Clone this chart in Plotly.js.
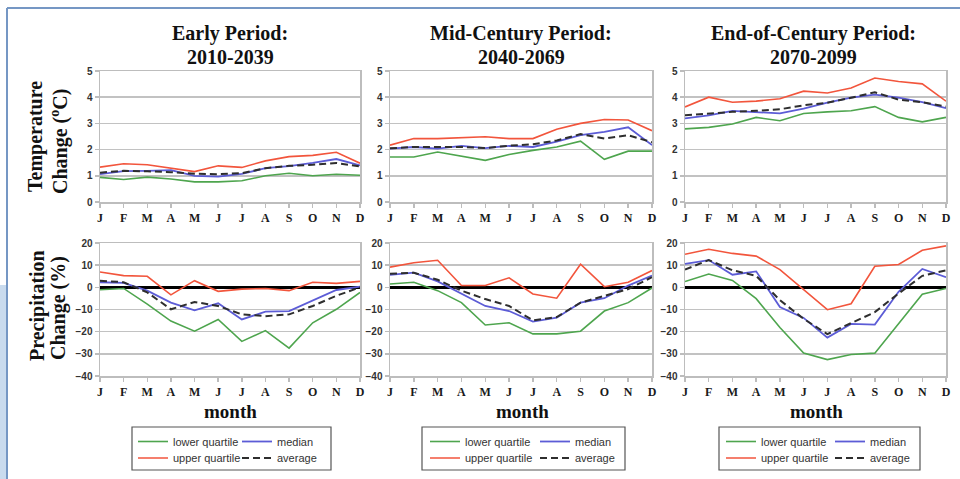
<!DOCTYPE html>
<html>
<head>
<meta charset="utf-8">
<script src="https://cdn.plot.ly/plotly-3.0.1.min.js"></script>
<style>html,body{margin:0;padding:0;background:#fff;}#chart{width:960px;height:479px;}</style>
</head>
<body>
<div id="chart"></div>
<script>
// ---------- data ----------
const monthPos = [1, 2, 3, 4, 5, 6, 7, 8, 9, 10, 11, 12];
const monthLabels = ['J', 'F', 'M', 'A', 'M', 'J', 'J', 'A', 'S', 'O', 'N', 'D'];
const seriesNames = ['lower quartile', 'upper quartile', 'median', 'average'];
const periodTitles = ['Early Period:', 'Mid-Century Period:', 'End-of-Century Period:'];
const periodYears = ['2010-2039', '2040-2069', '2070-2099'];

// Temperature change (°C)
const tempEarlyLower   = [0.94, 0.86, 0.95, 0.88, 0.77, 0.77, 0.81, 1.00, 1.10, 1.00, 1.06, 1.02];
const tempEarlyUpper   = [1.33, 1.46, 1.42, 1.28, 1.16, 1.38, 1.32, 1.57, 1.73, 1.78, 1.90, 1.48];
const tempEarlyMedian  = [1.06, 1.18, 1.19, 1.22, 1.00, 0.97, 1.07, 1.29, 1.37, 1.49, 1.64, 1.40];
const tempEarlyAverage = [1.12, 1.19, 1.17, 1.14, 1.08, 1.06, 1.10, 1.29, 1.38, 1.42, 1.49, 1.36];

const tempMidLower   = [1.72, 1.72, 1.91, 1.76, 1.59, 1.81, 1.97, 2.10, 2.32, 1.63, 1.94, 1.94];
const tempMidUpper   = [2.17, 2.42, 2.42, 2.45, 2.49, 2.42, 2.42, 2.78, 3.00, 3.15, 3.13, 2.72];
const tempMidMedian  = [2.04, 2.10, 2.04, 2.14, 2.06, 2.14, 2.10, 2.30, 2.55, 2.68, 2.85, 2.17];
const tempMidAverage = [2.05, 2.10, 2.10, 2.10, 2.06, 2.15, 2.20, 2.35, 2.59, 2.42, 2.55, 2.28];

const tempLateLower   = [2.79, 2.85, 2.98, 3.23, 3.10, 3.38, 3.44, 3.48, 3.64, 3.23, 3.06, 3.23];
const tempLateUpper   = [3.63, 4.00, 3.81, 3.85, 3.94, 4.23, 4.16, 4.35, 4.73, 4.60, 4.51, 3.85];
const tempLateMedian  = [3.19, 3.31, 3.48, 3.44, 3.38, 3.56, 3.79, 3.98, 4.10, 3.98, 3.81, 3.58];
const tempLateAverage = [3.31, 3.38, 3.44, 3.48, 3.54, 3.69, 3.79, 3.98, 4.19, 3.91, 3.81, 3.64];

// Precipitation change (%)
const precipEarlyLower   = [-1.1, -0.5, -7.6, -15.2, -19.8, -14.5, -24.4, -19.5, -27.4, -16.0, -9.9, -2.3];
const precipEarlyUpper   = [6.9, 5.3, 5.0, -3.4, 3.0, -1.8, -0.8, -0.5, -1.5, 2.3, 1.8, 2.7];
const precipEarlyMedian  = [2.3, 2.0, -1.5, -6.9, -10.4, -7.2, -14.5, -11.0, -10.7, -6.1, -1.2, 0.3];
const precipEarlyAverage = [3.0, 2.3, -2.3, -9.9, -6.6, -8.4, -12.2, -13.0, -12.2, -8.4, -3.8, 0.0];

const precipMidLower   = [1.5, 2.3, -1.5, -6.9, -17.0, -16.0, -21.0, -21.0, -19.8, -10.7, -6.9, -0.3];
const precipMidUpper   = [9.1, 11.1, 12.2, 0.8, 0.8, 4.3, -3.0, -4.9, 10.4, 0.3, 2.3, 7.6];
const precipMidMedian  = [5.6, 6.6, 2.7, -3.0, -8.4, -10.7, -15.5, -13.7, -6.9, -4.9, 0.8, 5.3];
const precipMidAverage = [6.1, 6.6, 3.4, -1.5, -5.3, -8.4, -14.9, -13.4, -6.9, -3.8, -0.8, 4.6];

const precipLateLower   = [2.6, 6.0, 3.1, -5.1, -18.1, -29.6, -32.6, -30.3, -29.7, -16.5, -3.1, -0.5];
const precipLateUpper   = [14.9, 17.2, 15.3, 14.1, 8.0, -1.2, -10.1, -7.4, 9.5, 10.3, 16.7, 18.7];
const precipLateMedian  = [10.6, 12.3, 5.7, 7.2, -8.9, -13.8, -22.7, -16.5, -16.8, -2.0, 8.3, 4.6];
const precipLateAverage = [8.0, 12.3, 7.7, 5.2, -5.8, -14.2, -21.1, -16.2, -11.2, -2.8, 5.2, 7.7];

// ---------- styling ----------
const W = 960, H = 479;
const px = v => v / W;
const py = v => 1 - v / H;

const seriesStyle = [
  {color: '#4ea54e', width: 1.6, dash: 'solid'},
  {color: '#f2553c', width: 1.6, dash: 'solid'},
  {color: '#5c5cd6', width: 1.8, dash: 'solid'},
  {color: '#2e2e2e', width: 2, dash: '7px,4px'}
];

const panels = [
  [tempEarlyLower, tempEarlyUpper, tempEarlyMedian, tempEarlyAverage],
  [tempMidLower, tempMidUpper, tempMidMedian, tempMidAverage],
  [tempLateLower, tempLateUpper, tempLateMedian, tempLateAverage],
  [precipEarlyLower, precipEarlyUpper, precipEarlyMedian, precipEarlyAverage],
  [precipMidLower, precipMidUpper, precipMidMedian, precipMidAverage],
  [precipLateLower, precipLateUpper, precipLateMedian, precipLateAverage]
];

// pixel geometry of plot areas
const colX = [[100, 360], [390, 652], [685, 946]];
const rowY = [[71, 202], [243, 376]];

// legend item positions (left of sample line, top), per column
const legendLeft = [[133, 237], [425, 535], [721, 830]];
const legendTop = [427, 443.5];
// series index -> [legend column, legend row]
const legendSlot = [[0, 0], [0, 1], [1, 0], [1, 1]];
const boxes = [[132, 331], [422, 625], [719, 920]];

const traces = [];
const layout = {
  width: W, height: H,
  margin: {l: 0, r: 0, t: 0, b: 0},
  paper_bgcolor: '#ffffff',
  plot_bgcolor: '#ffffff',
  showlegend: true,
  annotations: [],
  shapes: []
};

const serifBold = {family: 'Liberation Serif, Times New Roman, serif', weight: 'bold', color: '#111'};

for (let p = 0; p < 6; p++) {
  const row = p < 3 ? 0 : 1;
  const col = p % 3;
  const ax = p + 1;
  const xk = ax === 1 ? 'xaxis' : 'xaxis' + ax;
  const yk = ax === 1 ? 'yaxis' : 'yaxis' + ax;
  const xr = ax === 1 ? 'x' : 'x' + ax;
  const yr = ax === 1 ? 'y' : 'y' + ax;

  layout[xk] = {
    domain: [px(colX[col][0]), px(colX[col][1])],
    anchor: yr,
    range: [1, 12],
    tickmode: 'array',
    tickvals: monthPos,
    ticktext: monthLabels,
    tickfont: {family: 'Liberation Serif, serif', size: 12, weight: 'bold', color: '#1a1a1a'},
    showgrid: false,
    zeroline: false,
    showline: true, linecolor: '#bdbdbd', linewidth: 1.5, mirror: true,
    ticks: 'outside', ticklen: 4, tickcolor: '#bdbdbd', tickwidth: 1.5,
    fixedrange: true
  };
  layout[yk] = {
    domain: [py(rowY[row][1]), py(rowY[row][0])],
    anchor: xr,
    range: row === 0 ? [0, 5] : [-40, 20],
    dtick: row === 0 ? 1 : 10,
    tick0: 0,
    tickfont: {family: 'Liberation Sans, Arial, sans-serif', size: 10, weight: 'bold', color: '#333'},
    showgrid: true, gridcolor: '#c2c2c2', gridwidth: 1.5,
    zeroline: row === 1, zerolinecolor: '#000000', zerolinewidth: 2.5,
    showline: true, linecolor: '#bdbdbd', linewidth: 1.5, mirror: true,
    ticks: 'outside', ticklen: 4, tickcolor: '#bdbdbd', tickwidth: 1.5,
    fixedrange: true
  };

  for (let s = 0; s < 4; s++) {
    const st = seriesStyle[s];
    const tr = {
      type: 'scatter', mode: 'lines',
      x: monthPos, y: panels[p][s],
      xaxis: xr, yaxis: yr,
      name: seriesNames[s],
      line: {color: st.color, width: st.width, dash: st.dash},
      hoverinfo: 'skip',
      showlegend: row === 1
    };
    if (row === 1) {
      const idx = col * 4 + s + 1;
      const lid = idx === 1 ? 'legend' : 'legend' + idx;
      tr.legend = lid;
      const slot = legendSlot[s];
      layout[lid] = {
        x: px(legendLeft[col][slot[0]]),
        y: py(legendTop[slot[1]]),
        xanchor: 'left', yanchor: 'top',
        xref: 'paper', yref: 'paper',
        bgcolor: 'rgba(0,0,0,0)', borderwidth: 0,
        font: {family: 'Liberation Sans, Arial, sans-serif', size: 11, color: '#333'},
        orientation: 'v'
      };
    }
    traces.push(tr);
  }
}

// titles
const titleX = [230, 521, 813];
for (let c = 0; c < 3; c++) {
  layout.annotations.push({
    text: periodTitles[c], xref: 'paper', yref: 'paper', x: px(titleX[c]), y: py(33),
    xanchor: 'center', yanchor: 'middle', showarrow: false,
    font: Object.assign({size: 20}, serifBold)
  });
  layout.annotations.push({
    text: periodYears[c], xref: 'paper', yref: 'paper', x: px(titleX[c]), y: py(57),
    xanchor: 'center', yanchor: 'middle', showarrow: false,
    font: Object.assign({size: 20}, serifBold)
  });
  layout.annotations.push({
    text: 'month', xref: 'paper', yref: 'paper', x: px([230, 522, 816][c]), y: py(411),
    xanchor: 'center', yanchor: 'middle', showarrow: false,
    font: Object.assign({size: 19}, serifBold)
  });
  // legend frame
  layout.shapes.push({
    type: 'rect', xref: 'paper', yref: 'paper',
    x0: px(boxes[c][0]), x1: px(boxes[c][1]), y0: py(470), y1: py(427),
    line: {color: '#555', width: 1.2}, fillcolor: 'rgba(0,0,0,0)'
  });
}

// y-axis titles
const yTitles = [
  {text: 'Temperature', x: 36, y: 137},
  {text: 'Change (<sup>o</sup>C)', x: 59, y: 142},
  {text: 'Precipitation', x: 37, y: 306},
  {text: 'Change (%)', x: 58, y: 308}
];
yTitles.forEach(t => layout.annotations.push({
  text: t.text, xref: 'paper', yref: 'paper', x: px(t.x), y: py(t.y),
  xanchor: 'center', yanchor: 'middle', textangle: -90, showarrow: false,
  font: Object.assign({size: 20}, serifBold)
}));

// outer frame and left decoration
layout.shapes.push({type: 'rect', xref: 'paper', yref: 'paper', layer: 'below',
  x0: 0, x1: px(6), y0: 0, y1: py(285), line: {width: 0}, fillcolor: '#c9dbee'});
layout.shapes.push({type: 'line', xref: 'paper', yref: 'paper',
  x0: px(7), x1: 1, y0: py(8), y1: py(8), line: {color: '#7597c4', width: 2}});
layout.shapes.push({type: 'line', xref: 'paper', yref: 'paper',
  x0: px(7), x1: px(7), y0: 0, y1: py(8), line: {color: '#7597c4', width: 2}});

Plotly.newPlot('chart', traces, layout, {staticPlot: true, displayModeBar: false});
</script>
</body>
</html>
